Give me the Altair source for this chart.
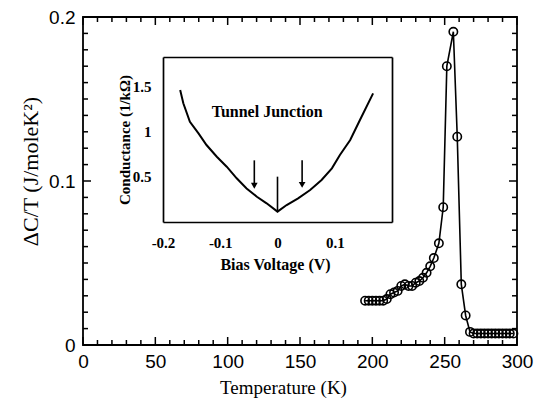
import altair as alt
import pandas as pd

# ---------------- main data (Delta C / T vs temperature) ----------------
temp_K = [195, 197.5, 200, 202.5, 205, 207.5, 210, 212.5, 215, 217.5, 220, 222.5,
          225, 227.5, 230, 232.5, 235, 237.5, 240, 242.5, 246, 249, 251.5, 256,
          258.7, 261.5, 264.5, 267.5, 270, 272.5, 275, 277.5, 280, 282.5, 285,
          287.5, 290, 292.5, 295, 297.5]
dct = [0.027, 0.027, 0.027, 0.027, 0.027, 0.027, 0.028, 0.031, 0.032, 0.033, 0.036, 0.037,
       0.036, 0.036, 0.038, 0.039, 0.041, 0.044, 0.048, 0.053, 0.062, 0.084, 0.170, 0.191,
       0.127, 0.037, 0.018, 0.008, 0.007, 0.007, 0.007, 0.007, 0.007, 0.007, 0.007,
       0.007, 0.007, 0.007, 0.007, 0.007]

x_major = [0, 50, 100, 150, 200, 250, 300]
x_minor = [v for v in range(0, 301, 10) if v % 50 != 0]
y_major = [0, 0.1, 0.2]
y_minor = [round(i * 0.01, 2) for i in range(21) if i % 10 != 0]

# ---------------- inset data (tunnel junction conductance) ----------------
bias_V = [-0.170, -0.1645, -0.153, -0.138, -0.124, -0.106, -0.0887, -0.0713, -0.054,
          -0.036, -0.019, 0.0, 0.016, 0.036, 0.057, 0.077, 0.095, 0.109, 0.127, 0.144, 0.167]
cond = [1.455, 1.31, 1.106, 0.978, 0.849, 0.72, 0.61, 0.482, 0.37,
        0.279, 0.206, 0.114, 0.187, 0.261, 0.353, 0.463, 0.592, 0.739, 0.904, 1.125, 1.419]
spike_V = [0.0]
spike_lo = [0.114]
spike_hi = [0.5]
arrow_V = [-0.0405, 0.043]
arrow_top = [0.68, 0.68]
arrow_head = [0.40, 0.41]
note_V = [-0.018]
note_G = [1.21]
note_text = ["Tunnel Junction"]
inset_x_ticks = [-0.2, -0.1, 0, 0.1]
inset_y_ticks = [0.5, 1, 1.5]

main_df = pd.DataFrame({"T": temp_K, "C": dct})
ins_df = pd.DataFrame({"V": bias_V, "G": cond})
spike_df = pd.DataFrame({"V": spike_V, "lo": spike_lo, "hi": spike_hi})
arrow_df = pd.DataFrame({"V": arrow_V, "top": arrow_top, "head": arrow_head})
note_df = pd.DataFrame({"V": note_V, "G": note_G, "t": note_text})

W, H = 434, 328
SANS = "Liberation Sans"
SERIF = "Liberation Serif"
MAJ, MIN = 8, 5
TICK_COLOR = "black"

def xs_main():
    return alt.Scale(domain=[0, 300], nice=False, zero=False)

def ys_main():
    return alt.Scale(domain=[0, 0.2], nice=False, zero=False)

def xs_in():
    return alt.Scale(domain=[-0.2, 0.2], range=[80, 309], nice=False, zero=False)

def ys_in():
    return alt.Scale(domain=[0, 1.82], range=[205, 40], nice=False, zero=False)

base = alt.Chart(main_df)

main_line = base.mark_line(color="black", strokeWidth=1.6).encode(
    x=alt.X("T:Q", scale=xs_main(), axis=alt.Axis(
        orient="bottom", values=x_major, ticks=False, domain=False, grid=False,
        labelFlush=False,
        labelFont=SANS, labelFontSize=19, labelColor="black", labelPadding=22,
        labelBaseline="alphabetic", title="Temperature (K)", titleFont=SERIF,
        titleFontSize=19, titleFontWeight="normal", titleColor="black",
        titleX=200, titleY=48, titleBaseline="alphabetic", titleAlign="center")),
    y=alt.Y("C:Q", scale=ys_main(), axis=alt.Axis(
        orient="left", values=y_major, ticks=False, domain=False, grid=False,
        labelFlush=False,
        labelExpr="datum.value == 0 ? '0' : format(datum.value, '.1f')",
        labelFont=SANS, labelFontSize=19, labelColor="black", labelPadding=8,
        title="ΔC/T (J/moleK²)", titleFont=SERIF, titleFontSize=22,
        titleFontWeight="normal", titleColor="black", titleX=-53, titleY=154,
        titleAngle=270, titleBaseline="middle", titleAlign="center")),
    order="T:Q",
)

main_pts = base.mark_point(shape="circle", size=70, filled=False, color="black",
                           strokeWidth=1.6, opacity=1).encode(
    x=alt.X("T:Q", scale=xs_main(), axis=None),
    y=alt.Y("C:Q", scale=ys_main(), axis=None),
)

# inward ticks on all four sides of the main frame, placed through the main scales
def x_ticks(values, length):
    df = pd.DataFrame({"v": values})
    bottom = alt.Chart(df).mark_rule(color=TICK_COLOR, strokeWidth=1.5).encode(
        x=alt.X("v:Q", scale=xs_main(), axis=None),
        y=alt.value(H), y2=alt.value(H - length))
    top = alt.Chart(df).mark_rule(color=TICK_COLOR, strokeWidth=1.5).encode(
        x=alt.X("v:Q", scale=xs_main(), axis=None),
        y=alt.value(0), y2=alt.value(length))
    return [bottom, top]

def y_ticks(values, length):
    df = pd.DataFrame({"v": values})
    left = alt.Chart(df).mark_rule(color=TICK_COLOR, strokeWidth=1.5).encode(
        y=alt.Y("v:Q", scale=ys_main(), axis=None),
        x=alt.value(0), x2=alt.value(length))
    right = alt.Chart(df).mark_rule(color=TICK_COLOR, strokeWidth=1.5).encode(
        y=alt.Y("v:Q", scale=ys_main(), axis=None),
        x=alt.value(W), x2=alt.value(W - length))
    return [left, right]

tick_layers = (x_ticks(x_major, MAJ) + x_ticks(x_minor, MIN)
               + y_ticks(y_major, MAJ) + y_ticks(y_minor, MIN))

inset_line = alt.Chart(ins_df).mark_line(color="black", strokeWidth=2).encode(
    x=alt.X("V:Q", scale=xs_in(), axis=alt.Axis(
        orient="bottom", offset=-(H - 205), values=inset_x_ticks, ticks=False,
        domain=True, domainColor="black", domainWidth=1.7, grid=False,
        labelFlush=False,
        labelExpr="datum.value == 0 ? '0' : (datum.value < 0 ? '-' + format(-datum.value, '.1f') : format(datum.value, '.1f'))",
        labelFont=SERIF, labelFontWeight="bold", labelFontSize=15, labelColor="black",
        labelPadding=25, labelBaseline="alphabetic",
        title="Bias Voltage (V)", titleFont=SERIF, titleFontWeight="bold",
        titleFontSize=16, titleColor="black", titleX=192, titleY=47,
        titleBaseline="alphabetic", titleAlign="center")),
    y=alt.Y("G:Q", scale=ys_in(), axis=alt.Axis(
        orient="left", offset=-80, values=inset_y_ticks, ticks=False,
        domain=True, domainColor="black", domainWidth=1.7, grid=False,
        labelFlush=False,
        labelExpr="format(datum.value, '~g')",
        labelFont=SERIF, labelFontWeight="bold", labelFontSize=15, labelColor="black",
        labelPadding=12,
        title="Conductance (1/kΩ)", titleFont=SERIF, titleFontWeight="bold",
        titleFontSize=15, titleColor="black", titleX=-39, titleY=122.5,
        titleAngle=270, titleBaseline="middle", titleAlign="center")),
    order="V:Q",
)

spike = alt.Chart(spike_df).mark_rule(color="black", strokeWidth=1.6).encode(
    x=alt.X("V:Q", scale=xs_in(), axis=alt.Axis(
        orient="top", offset=-40, ticks=False, labels=False, domain=True,
        domainColor="black", domainWidth=1.7, grid=False, title=None)),
    y=alt.Y("lo:Q", scale=ys_in(), axis=alt.Axis(
        orient="right", offset=-(W - 309), ticks=False, labels=False, domain=True,
        domainColor="black", domainWidth=1.7, grid=False, title=None)),
    y2="hi:Q",
)

arrows = alt.Chart(arrow_df).mark_rule(color="black", strokeWidth=1.6).encode(
    x=alt.X("V:Q", scale=xs_in(), axis=None),
    y=alt.Y("top:Q", scale=ys_in(), axis=None),
    y2="head:Q",
)
heads = alt.Chart(arrow_df).mark_point(shape="triangle-down", filled=True, color="black",
                                       size=45, opacity=1).encode(
    x=alt.X("V:Q", scale=xs_in(), axis=None),
    y=alt.Y("head:Q", scale=ys_in(), axis=None),
)
note = alt.Chart(note_df).mark_text(font=SERIF, fontWeight="bold", fontSize=16,
                                    color="black", align="center", baseline="middle").encode(
    x=alt.X("V:Q", scale=xs_in(), axis=None),
    y=alt.Y("G:Q", scale=ys_in(), axis=None),
    text="t:N",
)

chart = alt.layer(
    main_line, main_pts, *tick_layers,
    inset_line, spike, arrows, heads, note,
).resolve_scale(
    x="independent", y="independent"
).resolve_axis(
    x="independent", y="independent"
).properties(
    width=W, height=H,
    padding={"left": 75, "top": 9, "right": 20, "bottom": 66},
    autosize="none",
    background="white",
).configure_view(
    stroke="black", strokeWidth=1.8
)

chart.save("out.html", embed_options={"renderer": "svg", "actions": False})
